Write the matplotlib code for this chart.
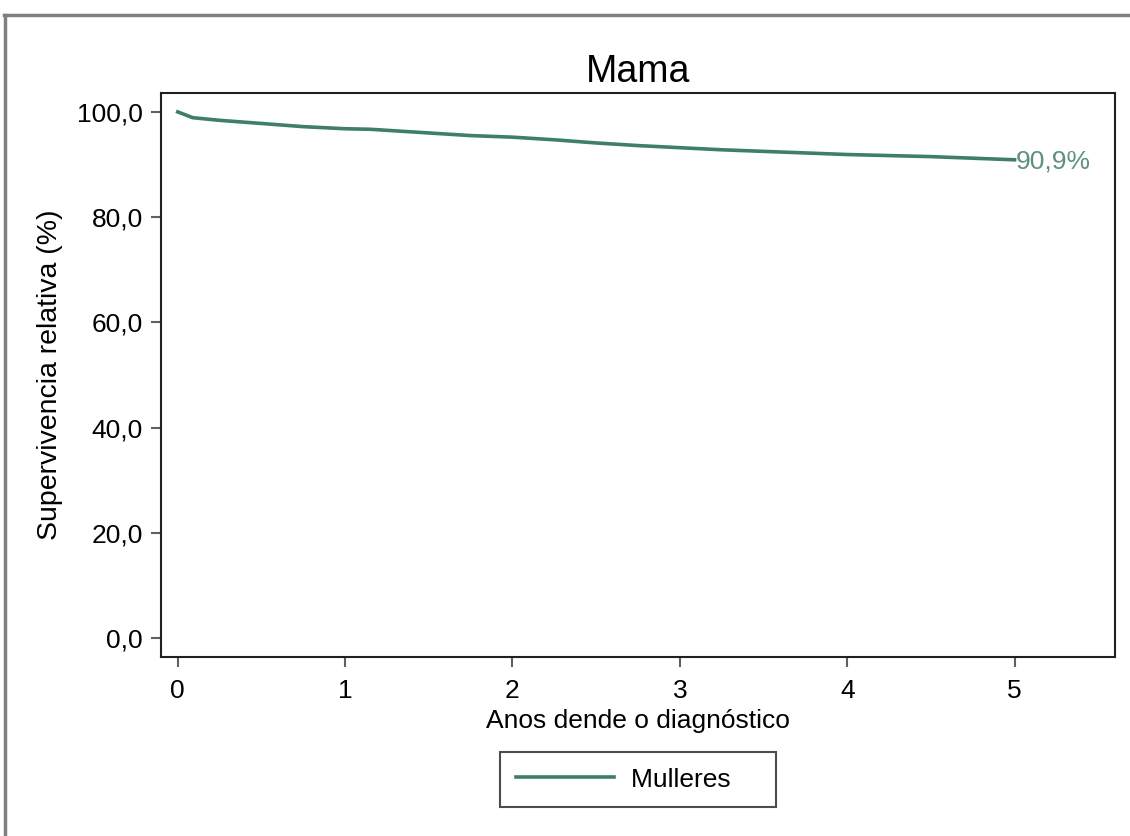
import numpy as np
import matplotlib
matplotlib.use("Agg")
import matplotlib.pyplot as plt
from matplotlib.lines import Line2D

plt.rcParams['font.family'] = ['Liberation Sans', 'DejaVu Sans']

# datos leidos da grafica
anos = [0, 0.09, 0.25, 0.5, 0.75, 1.0, 1.15, 1.5, 1.75, 2.0, 2.25, 2.5,
        2.75, 3.0, 3.25, 3.5, 3.75, 4.0, 4.25, 4.5, 4.75, 5.0]
supervivencia = [100, 98.9, 98.4, 97.8, 97.2, 96.8, 96.7, 96.0, 95.5, 95.2,
                 94.7, 94.1, 93.6, 93.2, 92.8, 92.5, 92.2, 91.9, 91.7, 91.5,
                 91.2, 90.9]
serie = "Mulleres"
titulo = "Mama"
xticks = [0, 1, 2, 3, 4, 5]
yticks = [0, 20, 40, 60, 80, 100]

verde = "#3f7f66"
verde_txt = "#5d917c"

fig = plt.figure(figsize=(11.3, 8.36), dpi=100)
ax = fig.add_axes([0.1425, 0.2141, 0.8442, 0.6747])

ax.plot(anos, supervivencia, color=verde, lw=2.6, label=serie + "    ")
ax.text(anos[-1] + 0.01, supervivencia[-1] - 0.4,
        f"{supervivencia[-1]:.1f}%".replace(".", ","),
        color=verde_txt, fontsize=19, va="center", ha="left")

ax.set_xlim(-0.1, 5.6)
ax.set_ylim(-3.6, 103.6)
ax.set_xticks(xticks)
ax.set_yticks(yticks)
ax.set_yticklabels([f"{v:.1f}".replace(".", ",") for v in yticks])
ax.tick_params(axis="both", direction="out", length=7, width=1.5, color="#606060",
               labelsize=19, pad=6)
ax.tick_params(axis="x", pad=9)
for s in ax.spines.values():
    s.set_linewidth(1.5)
    s.set_color("#202020")

ax.set_title(titulo, fontsize=27, pad=8)
ax.set_xlabel("Anos dende o diagnóstico", fontsize=19, labelpad=4)
ax.set_ylabel("Supervivencia relativa (%)", fontsize=20.5, labelpad=10)

leg = ax.legend(loc="upper center", bbox_to_anchor=(0.5, -0.168), borderaxespad=0,
                fontsize=19, frameon=True, fancybox=False, handlelength=3.7,
                handletextpad=0.65, borderpad=0.6)
leg.get_frame().set_edgecolor("#202020")
leg.get_frame().set_linewidth(1.5)

# marco gris exterior
W, H = 1130, 836
fig.add_artist(Line2D([4 / W, 1], [1 - 15 / H, 1 - 15 / H], color="#808080", lw=2.5,
                      transform=fig.transFigure))
fig.add_artist(Line2D([5 / W, 5 / W], [0, 1 - 15 / H], color="#808080", lw=2.5,
                      transform=fig.transFigure))

fig.savefig("out.png", dpi=100)
